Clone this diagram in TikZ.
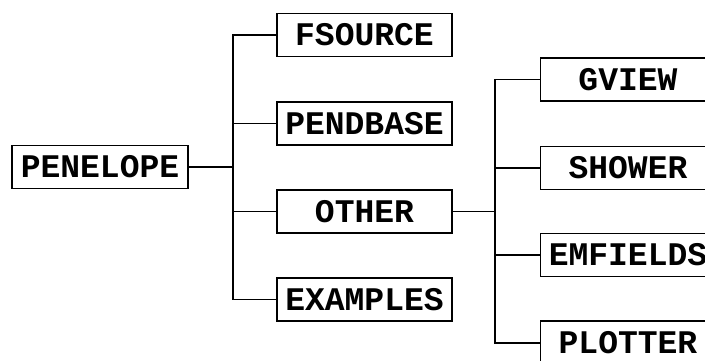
\documentclass[tikz,border=0pt]{standalone}
\usepackage{fontspec}
\setmonofont{Liberation Mono}
\begin{document}
\begin{tikzpicture}[x=1pt,y=-1pt,
  modbox/.style={draw, line width=1.8pt, minimum width=175pt, minimum height=43pt, inner sep=0pt,
    font=\ttfamily\bfseries\fontsize{33}{36}\selectfont},
  conn/.style={line width=1.8pt}]
\useasboundingbox (0,0) rectangle (705,360);
\clip (0,0) rectangle (705,360);
\node[modbox, minimum width=176pt] (pen) at (100,167) {PENELOPE};
\node[modbox] (fs) at (364.5,35) {FSOURCE};
\node[modbox] (pb) at (364.5,123.5) {PENDBASE};
\node[modbox] (ot) at (364.5,211.5) {OTHER};
\node[modbox] (ex) at (364.5,299.5) {EXAMPLES};
\node[modbox] (gv) at (628,79.5) {GVIEW};
\node[modbox] (sh) at (628,168) {SHOWER};
\node[modbox] (em) at (628,255) {EMFIELDS};
\node[modbox, minimum height=44pt] (pl) at (628,343) {PLOTTER};
\coordinate (j1) at (233,167);
\coordinate (j2) at (495,211.5);
\draw[conn] (pen.east) -- (j1);
\draw[conn] (j1) |- (fs.west);
\draw[conn] (j1) |- (pb.west);
\draw[conn] (j1) |- (ot.west);
\draw[conn] (j1) |- (ex.west);
\draw[conn] (ot.east) -- (j2);
\draw[conn] (j2) |- (gv.west);
\draw[conn] (j2) |- (sh.west);
\draw[conn] (j2) |- (em.west);
\draw[conn] (j2) |- (pl.west);
\end{tikzpicture}
\end{document}
